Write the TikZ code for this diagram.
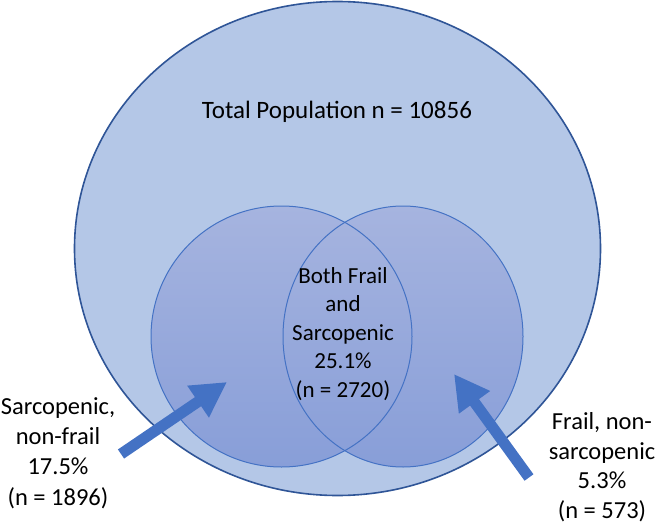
\documentclass[tikz,border=0pt]{standalone}
\usepackage{fontspec}
\setmainfont{Carlito}
\usetikzlibrary{arrows.meta,shapes.geometric}
\definecolor{outerfill}{HTML}{B4C7E7}
\definecolor{outerline}{HTML}{2F5597}
\definecolor{innerline}{HTML}{4472C4}
\definecolor{innertop}{HTML}{A6B4DF}
\definecolor{innerbot}{HTML}{889ED8}
\definecolor{arrowblue}{HTML}{4472C4}
\tikzset{
  outerset/.style={ellipse, draw=outerline, line width=1.6pt, fill=outerfill, inner sep=0pt, outer sep=0pt},
  innerset/.style={ellipse, top color=innertop, bottom color=innerbot, inner sep=0pt, outer sep=0pt},
  innerrim/.style={draw=innerline, line width=1pt},
  lbl/.style={align=center, inner sep=0pt, text=black},
  blockarrow/.style={draw=arrowblue, line width=11pt, -{Triangle[length=35pt, width=36pt]}}
}
\begin{document}
\begin{tikzpicture}[x=1pt,y=-1pt]
\useasboundingbox (0,0) rectangle (656,524);
% total population
\node[outerset, minimum width=526pt, minimum height=494pt] (total) at (337.5,248.5) {};
\node[lbl, font=\fontsize{25}{30}\selectfont] (totallbl) at (337,112) {Total Population n = 10856};
% inner sets
\node[innerset, minimum width=261pt, minimum height=261pt] (sarc) at (281.5,336.5) {};
\node[innerset, minimum width=240pt, minimum height=261pt] (frail) at (403,336.5) {};
\draw[innerrim] (sarc.center) ellipse [x radius=130.5, y radius=130.5];
\draw[innerrim] (frail.center) ellipse [x radius=120, y radius=130.5];
\node[lbl, font=\fontsize{23}{28.6}\selectfont] (both) at (343,334) {Both Frail\\and\\Sarcopenic\\25.1\%\\(n = 2720)};
% side labels
\node[lbl, font=\fontsize{24.5}{30.3}\selectfont] (sarclbl) at (58,453) {Sarcopenic,\\non-frail\\17.5\%\\(n = 1896)};
\node[lbl, font=\fontsize{24.5}{29.5}\selectfont] (fraillbl) at (602,467) {Frail, non-\\sarcopenic\\5.3\%\\(n = 573)};
% arrows
\coordinate (la0) at (121,454);
\coordinate (la1) at (227,382);
\coordinate (ra0) at (529,477.5);
\coordinate (ra1) at (454,374);
\draw[blockarrow] (la0) -- (la1);
\draw[blockarrow] (ra0) -- (ra1);
\end{tikzpicture}
\end{document}
